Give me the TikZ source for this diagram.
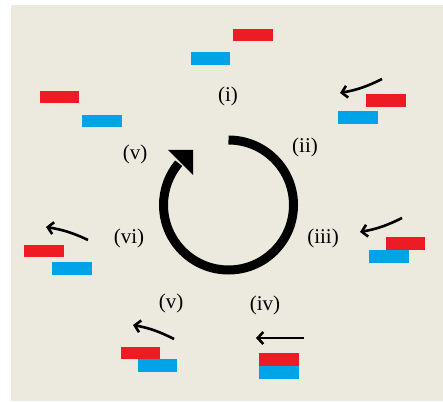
\documentclass[tikz,border=0pt]{standalone}
\usepackage{fontspec}
\setmainfont{Liberation Serif}
\usetikzlibrary{arrows.meta}
\definecolor{bgc}{RGB}{236,233,223}
\definecolor{rd}{RGB}{237,28,36}
\definecolor{bl}{RGB}{0,162,232}
\tikzset{
  lbl/.style={font=\fontsize{21}{23}\selectfont, inner sep=0pt},
  redbar/.style={fill=rd},
  bluebar/.style={fill=bl},
  push/.style={line width=2.6pt, -{Straight Barb[length=5.5pt,width=12pt]}},
}
\begin{document}
\begin{tikzpicture}[x=1pt,y=1pt]
\useasboundingbox (0,0) rectangle (443,401);
\fill[bgc] (11,0) rectangle (443,396);
% central cycle
\draw[line width=9pt] (228.5,261) arc[start angle=90, end angle=-220, radius=65];
\fill (168,251) -- (193,251) -- (193,226) -- cycle;
% labels
\node[lbl] (l1) at (228,305) {(i)};
\node[lbl] (l2) at (305,254) {(ii)};
\node[lbl] (l5a) at (135,247) {(v)};
\node[lbl] (l3) at (323,163) {(iii)};
\node[lbl] (l6) at (129,163) {(vi)};
\node[lbl] (l5b) at (171,98) {(v)};
\node[lbl] (l4) at (265,96) {(iv)};
% bars
\fill[redbar] (233,360) rectangle (273,372);
\fill[bluebar] (191,336) rectangle (230,349);
\fill[redbar] (40,298) rectangle (79,310);
\fill[bluebar] (82,274) rectangle (122,286);
\fill[redbar] (366,294) rectangle (406,307);
\fill[bluebar] (338,277) rectangle (378,290);
\fill[bluebar] (369,138) rectangle (409,151);
\fill[redbar] (386,151) rectangle (425,164);
\fill[redbar] (24,144) rectangle (64,156);
\fill[bluebar] (52,126) rectangle (92,139);
\fill[bluebar] (138,29) rectangle (177,42);
\fill[redbar] (121,42) rectangle (160,54);
\fill[redbar] (259,35) rectangle (299,48);
\fill[bluebar] (259,22) rectangle (299,35);
% arrows
\coordinate (a1s) at (382,322); \coordinate (a1e) at (340,308);
\coordinate (a2s) at (402,183); \coordinate (a2e) at (360,169);
\coordinate (a3s) at (88,161);  \coordinate (a3e) at (46,174);
\coordinate (a4s) at (174,62);  \coordinate (a4e) at (133,76);
\coordinate (a5s) at (304,63);  \coordinate (a5e) at (256,63);
\draw[push] (a1s) to[bend left=8] (a1e);
\draw[push] (a2s) to[bend left=8] (a2e);
\draw[push] (a3s) to[bend right=8] (a3e);
\draw[push] (a4s) to[bend right=8] (a4e);
\draw[push] (a5s) -- (a5e);
\end{tikzpicture}
\end{document}
